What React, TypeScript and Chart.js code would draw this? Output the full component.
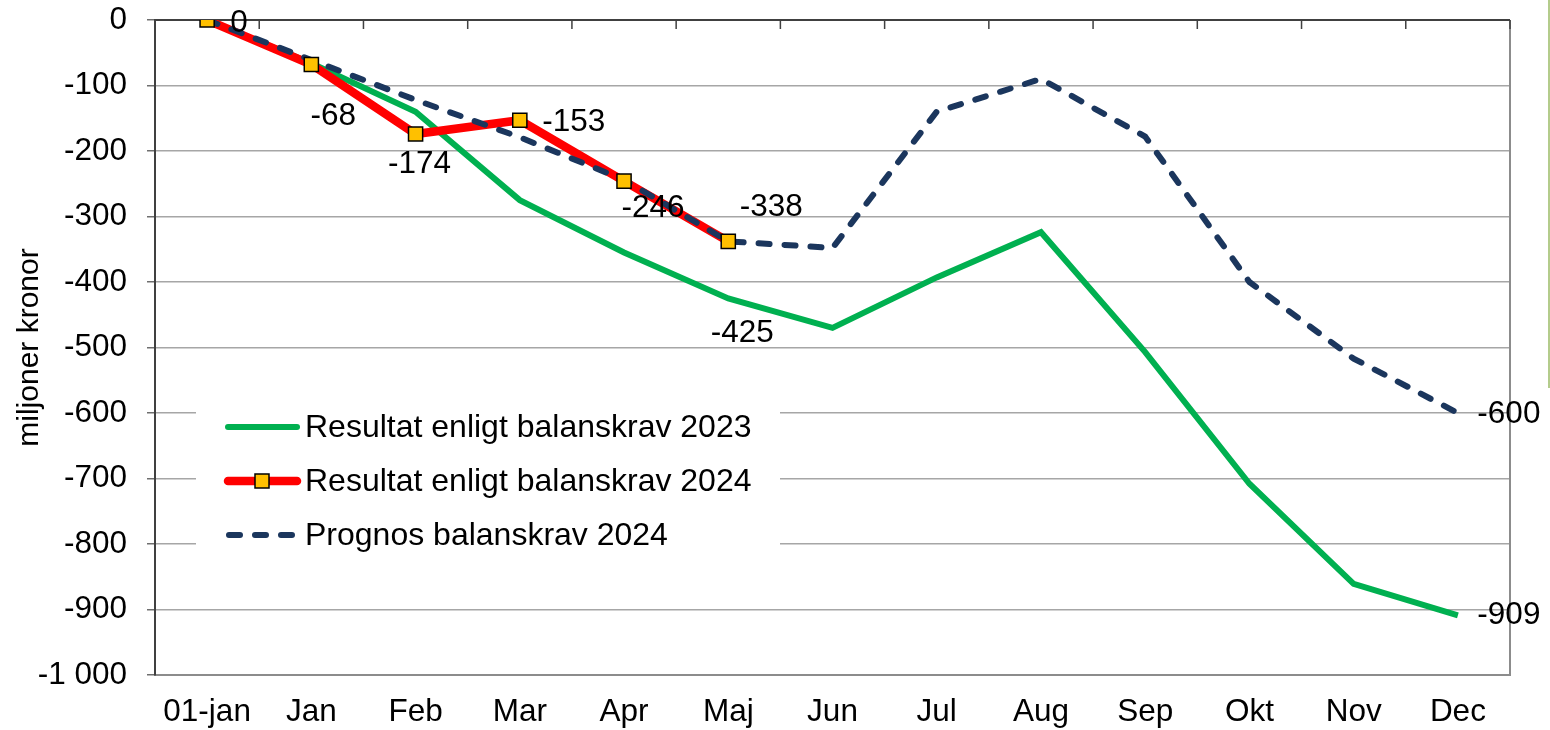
import { useEffect, useRef } from 'react';
import { Chart, registerables } from 'chart.js';

Chart.register(...registerables);

// ---- data ----
const CATEGORIES = ['01-jan', 'Jan', 'Feb', 'Mar', 'Apr', 'Maj', 'Jun', 'Jul', 'Aug', 'Sep', 'Okt', 'Nov', 'Dec'];
const RESULT_2023 = [0, -66, -140, -275, -355, -425, -470, -393, -324, -507, -708, -861, -909];
const RESULT_2024 = [0, -68, -174, -153, -246, -338];
const PROGNOS_2024 = [0, -61, -122, -179, -244, -338, -348, -140, -90, -178, -400, -517, -600];
const SERIES_NAMES = ['Resultat enligt balanskrav 2023', 'Resultat enligt balanskrav 2024', 'Prognos balanskrav 2024'];
const Y_TITLE = 'miljoner kronor';
const Y_MIN = -1000;
const Y_MAX = 0;
const Y_STEP = 100;

// ---- styles ----
const FONT = '"Liberation Sans", Arial, sans-serif';
const GREEN = '#00B050';
const RED = '#FF0000';
const NAVY = '#1B365D';
const MARKER = '#FFC000';
const DASH = [11, 15];

// data-label placement (dataset index, point index, offset from the point)
const LABEL_PLACES = [
  { ds: 1, i: 0, dx: 32, dy: 3 },
  { ds: 1, i: 1, dx: 22, dy: 52 },
  { ds: 1, i: 2, dx: 4, dy: 30 },
  { ds: 1, i: 3, dx: 54, dy: 2 },
  { ds: 1, i: 4, dx: 29, dy: 27 },
  { ds: 1, i: 5, dx: 43, dy: -34 },
  { ds: 0, i: 5, dx: 14, dy: 35 },
  { ds: 0, i: 12, dx: 51, dy: 0 },
  { ds: 2, i: 12, dx: 51, dy: 1 },
];

const fmt = (v: number) => {
  const s = Math.abs(Math.round(v)).toString().replace(/\B(?=(\d{3})+(?!\d))/g, ' ');
  return (v < 0 ? '-' : '') + s;
};

const framePlugin = {
  id: 'frame',
  beforeDatasetsDraw(chart: any) {
    const { ctx, chartArea, scales } = chart;
    const x = scales.x;
    const y = scales.y;
    const y0 = y.getPixelForValue(0);
    ctx.save();
    ctx.strokeStyle = '#8c8c8c';
    ctx.lineWidth = 2;
    ctx.beginPath();
    ctx.moveTo(chartArea.right, chartArea.top);
    ctx.lineTo(chartArea.right, chartArea.bottom + 1);
    ctx.stroke();
    ctx.strokeStyle = '#404040';
    ctx.lineWidth = 2;
    ctx.beginPath();
    ctx.moveTo(chartArea.left, y0);
    ctx.lineTo(chartArea.right, y0);
    ctx.stroke();
    const step = x.getPixelForValue(1) - x.getPixelForValue(0);
    ctx.lineWidth = 1.5;
    ctx.beginPath();
    for (let k = 0; k <= CATEGORIES.length; k++) {
      const bx = x.getPixelForValue(k) - step / 2;
      ctx.moveTo(bx, y0);
      ctx.lineTo(bx, y0 + 9);
    }
    ctx.stroke();
    ctx.restore();
  },
};

const legendPlugin = {
  id: 'boxLegend',
  afterDatasetsDraw(chart: any) {
    const { ctx } = chart;
    ctx.save();
    ctx.fillStyle = '#ffffff';
    ctx.fillRect(196, 388, 584, 180);
    const rows = [427, 481, 535];
    const x1 = 228;
    const x2 = 297;
    ctx.lineCap = 'round';
    ctx.strokeStyle = GREEN;
    ctx.lineWidth = 6;
    ctx.beginPath();
    ctx.moveTo(x1, rows[0]);
    ctx.lineTo(x2, rows[0]);
    ctx.stroke();
    ctx.strokeStyle = RED;
    ctx.lineWidth = 8.5;
    ctx.beginPath();
    ctx.moveTo(x1, rows[1]);
    ctx.lineTo(x2, rows[1]);
    ctx.stroke();
    ctx.fillStyle = MARKER;
    ctx.strokeStyle = '#000';
    ctx.lineWidth = 1.5;
    ctx.fillRect(255, rows[1] - 7, 14, 14);
    ctx.strokeRect(255, rows[1] - 7, 14, 14);
    ctx.strokeStyle = NAVY;
    ctx.lineWidth = 6;
    ctx.setLineDash(DASH);
    ctx.beginPath();
    ctx.moveTo(x1 + 1, rows[2]);
    ctx.lineTo(x2, rows[2]);
    ctx.stroke();
    ctx.setLineDash([]);
    ctx.fillStyle = '#000';
    ctx.font = `32px ${FONT}`;
    ctx.textAlign = 'left';
    ctx.textBaseline = 'middle';
    SERIES_NAMES.forEach((name, k) => ctx.fillText(name, 305, rows[k] + 1));
    ctx.restore();
  },
};

const labelPlugin = {
  id: 'valueLabels',
  afterDatasetsDraw(chart: any) {
    const { ctx } = chart;
    ctx.save();
    ctx.fillStyle = '#000';
    ctx.font = `31.5px ${FONT}`;
    ctx.textAlign = 'center';
    ctx.textBaseline = 'middle';
    LABEL_PLACES.forEach((p) => {
      const meta = chart.getDatasetMeta(p.ds);
      const pt = meta.data[p.i];
      if (!pt) return;
      const v = chart.data.datasets[p.ds].data[p.i] as number;
      ctx.fillText(fmt(v), pt.x + p.dx, pt.y + p.dy);
    });
    ctx.restore();
  },
};

const edgePlugin = {
  id: 'edge',
  afterDraw(chart: any) {
    const { ctx } = chart;
    ctx.save();
    ctx.strokeStyle = '#b4cc8c';
    ctx.lineWidth = 2;
    ctx.beginPath();
    ctx.moveTo(1549, 0);
    ctx.lineTo(1549, 388);
    ctx.stroke();
    ctx.restore();
  },
};

export default function App() {
  const ref = useRef<HTMLCanvasElement | null>(null);

  useEffect(() => {
    document.body.style.margin = '0';
    const canvas = ref.current;
    if (!canvas) return;
    const chart = new Chart(canvas, {
      type: 'line',
      data: {
        labels: CATEGORIES,
        datasets: [
          {
            label: SERIES_NAMES[0],
            data: RESULT_2023,
            borderColor: GREEN,
            borderWidth: 6,
            pointRadius: 0,
            tension: 0,
            fill: false,
            order: 4,
          },
          {
            label: SERIES_NAMES[1],
            data: RESULT_2024,
            borderColor: RED,
            borderWidth: 8.5,
            pointRadius: 0,
            tension: 0,
            fill: false,
            order: 3,
          },
          {
            label: SERIES_NAMES[2],
            data: PROGNOS_2024,
            borderColor: NAVY,
            borderWidth: 6,
            borderDash: DASH,
            borderCapStyle: 'round',
            pointRadius: 0,
            tension: 0,
            fill: false,
            order: 2,
          },
          {
            label: SERIES_NAMES[1] + ' (markörer)',
            data: RESULT_2024,
            showLine: false,
            pointStyle: 'rect',
            pointRadius: 10,
            pointBackgroundColor: MARKER,
            pointBorderColor: '#000',
            pointBorderWidth: 1.5,
            order: 1,
          },
        ],
      },
      options: {
        animation: false,
        responsive: false,
        layout: { padding: { left: 0, right: 40, top: 20, bottom: 0 } },
        plugins: { legend: { display: false }, tooltip: { enabled: false } },
        scales: {
          x: {
            type: 'category',
            offset: true,
            grid: { display: false, drawTicks: false },
            border: { display: true, color: '#8c8c8c', width: 2 },
            ticks: {
              color: '#000',
              font: { family: FONT, size: 31.5 },
              padding: 18,
              maxRotation: 0,
              autoSkip: false,
            },
            afterFit: (s: any) => {
              s.height = 55;
            },
          },
          y: {
            min: Y_MIN,
            max: Y_MAX,
            ticks: {
              stepSize: Y_STEP,
              color: '#000',
              font: { family: FONT, size: 31.5 },
              padding: 20,
              callback: (v: any) => fmt(Number(v)),
            },
            grid: {
              color: '#a6a6a6',
              lineWidth: 1.5,
              tickLength: 8,
              tickColor: '#6e6e6e',
              drawTicks: true,
            },
            border: { color: '#404040', width: 2 },
            title: {
              display: true,
              text: Y_TITLE,
              color: '#000',
              font: { family: FONT, size: 30 },
              padding: { top: 12, bottom: 0 },
            },
            afterFit: (s: any) => {
              s.width = 155;
              s.paddingTop = 0;
              s.paddingBottom = 0;
            },
          },
        },
      },
      plugins: [framePlugin, legendPlugin, labelPlugin, edgePlugin],
    } as any);
    return () => chart.destroy();
  }, []);

  return (
    <div style={{ width: 1550, height: 730, background: '#fff' }}>
      <canvas ref={ref} width={1550} height={730} style={{ display: 'block' }} />
    </div>
  );
}
